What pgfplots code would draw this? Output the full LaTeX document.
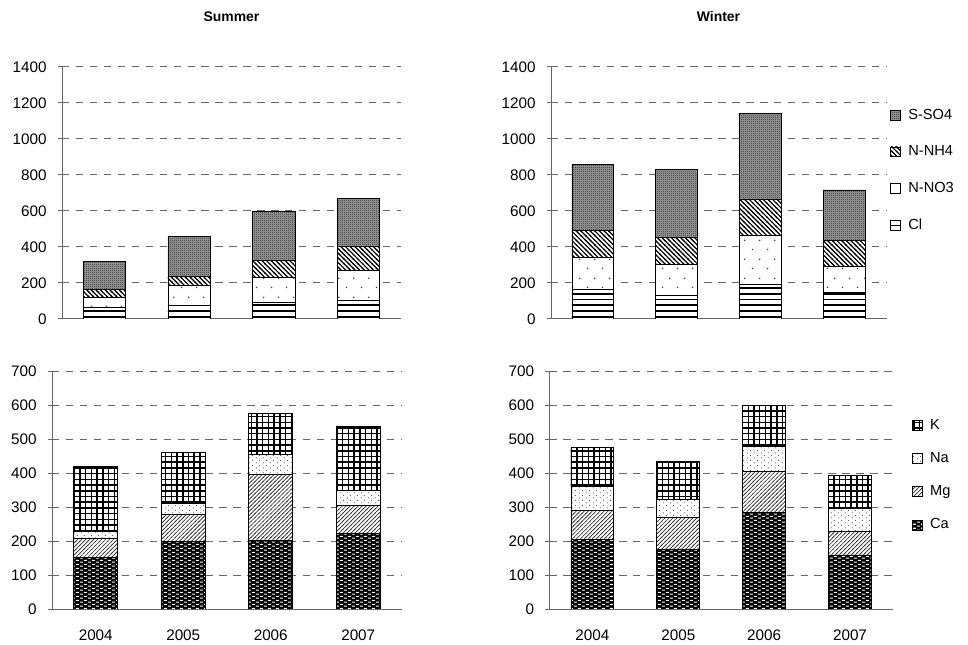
\documentclass[border=0pt]{standalone}
\usepackage{fontspec}
\setmainfont{Liberation Sans}
\usepackage{pgfplots}
\usepackage{pgfplotstable}
\pgfplotsset{compat=1.18}
\usetikzlibrary{patterns}

% ---------- fill patterns (form-only, coloured by "pattern color") ----------
% Cl: thick horizontal rules
\pgfdeclarepatternformonly{clpat}{\pgfqpoint{-1pt}{-1pt}}{\pgfqpoint{5pt}{5.3pt}}{\pgfqpoint{4pt}{4.3pt}}{%
  \pgfsetlinewidth{1.3pt}%
  \pgfpathmoveto{\pgfqpoint{-0.5pt}{2pt}}\pgfpathlineto{\pgfqpoint{4.5pt}{2pt}}\pgfusepath{stroke}}
% N-NO3: sparse staggered dots
\pgfdeclarepatternformonly{no3pat}{\pgfqpoint{0pt}{0pt}}{\pgfqpoint{11pt}{14pt}}{\pgfqpoint{11pt}{14pt}}{%
  \pgfpathcircle{\pgfqpoint{2.75pt}{3.5pt}}{0.65pt}%
  \pgfpathcircle{\pgfqpoint{8.25pt}{10.5pt}}{0.65pt}\pgfusepath{fill}}
% N-NH4: dense "\\" stripes
\pgfdeclarepatternformonly{nh4pat}{\pgfqpoint{-1pt}{-1pt}}{\pgfqpoint{4.5pt}{4.5pt}}{\pgfqpoint{3.5pt}{3.5pt}}{%
  \pgfsetlinewidth{0.9pt}%
  \pgfpathmoveto{\pgfqpoint{-0.4pt}{3.9pt}}\pgfpathlineto{\pgfqpoint{3.9pt}{-0.4pt}}\pgfusepath{stroke}}
% S-SO4: fine dot texture laid over grey
\pgfdeclarepatternformonly{so4pat}{\pgfqpoint{0pt}{0pt}}{\pgfqpoint{1.6pt}{1.6pt}}{\pgfqpoint{1.6pt}{1.6pt}}{%
  \pgfpathcircle{\pgfqpoint{0.4pt}{0.4pt}}{0.42pt}\pgfusepath{fill}}
% Ca: short light dashes in a brick layout (on black)
\pgfdeclarepatternformonly{capat}{\pgfqpoint{0pt}{0pt}}{\pgfqpoint{6pt}{3.2pt}}{\pgfqpoint{6pt}{3.2pt}}{%
  \pgfsetlinewidth{0.9pt}%
  \pgfpathmoveto{\pgfqpoint{0.6pt}{0.8pt}}\pgfpathlineto{\pgfqpoint{2.9pt}{0.8pt}}%
  \pgfpathmoveto{\pgfqpoint{3.6pt}{2.4pt}}\pgfpathlineto{\pgfqpoint{5.9pt}{2.4pt}}\pgfusepath{stroke}}
% Mg: thin "//" stripes
\pgfdeclarepatternformonly{mgpat}{\pgfqpoint{-1pt}{-1pt}}{\pgfqpoint{4pt}{4pt}}{\pgfqpoint{3pt}{3pt}}{%
  \pgfsetlinewidth{0.5pt}%
  \pgfpathmoveto{\pgfqpoint{-0.4pt}{-0.4pt}}\pgfpathlineto{\pgfqpoint{3.4pt}{3.4pt}}\pgfusepath{stroke}}
% Na: small dense dots
\pgfdeclarepatternformonly{napat}{\pgfqpoint{0pt}{0pt}}{\pgfqpoint{5pt}{4pt}}{\pgfqpoint{5pt}{4pt}}{%
  \pgfpathcircle{\pgfqpoint{1pt}{1pt}}{0.45pt}%
  \pgfpathcircle{\pgfqpoint{3.5pt}{3pt}}{0.45pt}\pgfusepath{fill}}
% K: heavy grid
\pgfdeclarepatternformonly{kpat}{\pgfqpoint{-1pt}{-1pt}}{\pgfqpoint{5.3pt}{5.3pt}}{\pgfqpoint{4.3pt}{4.3pt}}{%
  \pgfsetlinewidth{1.1pt}%
  \pgfpathmoveto{\pgfqpoint{0pt}{-0.6pt}}\pgfpathlineto{\pgfqpoint{0pt}{4.9pt}}%
  \pgfpathmoveto{\pgfqpoint{-0.6pt}{0pt}}\pgfpathlineto{\pgfqpoint{4.9pt}{0pt}}\pgfusepath{stroke}}

% ---------- data (segment heights of each stacked bar) ----------
\pgfplotstableread{
x  Cl  NO3 NH4 SO4
0  65  53  47  153
1  74  115 46  222
2  91  141 96  269
3  105 163 137 267
}\summertop
\pgfplotstableread{
x  Cl  NO3 NH4 SO4
0  163 180 151 366
1  132 169 153 378
2  191 276 200 477
3  148 146 143 280
}\wintertop
\pgfplotstableread{
x  Ca  Mg  Na  K
0  151 56  21  191
1  200 77  34  150
2  202 194 59  120
3  221 84  45  188
}\summerbot
\pgfplotstableread{
x  Ca  Mg  Na  K
0  204 87  69  115
1  176 92  53  114
2  284 120 73  123
3  159 68  70  95
}\winterbot

\pgfplotsset{
  panel/.style={
    scale only axis,
    ybar stacked, bar width=0.5,
    xmin=-0.5, xmax=3.5, ymin=0,
    axis x line*=bottom, axis y line*=left,
    axis line style={black!60, line width=0.75pt},
    xtick={0,1,2,3},
    major x tick style={draw=none},
    major y tick style={black!60, line width=0.75pt},
    tick align=outside, major tick length=3pt,
    ymajorgrids,
    grid style={black!60, line width=0.75pt, dash pattern=on 5.5pt off 5pt},
    tick label style={font=\fontsize{11.5}{13.8}\selectfont},
    /pgf/number format/assume math mode=true,
    /pgf/number format/1000 sep={},
    yticklabel style={xshift=-5pt},
    xticklabel style={yshift=-9pt},
    every axis plot/.append style={draw=black, line width=0.6pt},
    legend cell align=left,
    reverse legend,
    legend image code/.code={\draw[##1, draw=black, line width=0.4pt] (0pt,-3.75pt) rectangle (7.5pt,3.75pt);},
  },
  toprow/.style={panel, ymax=1400, ytick={0,200,...,1400}, xticklabels={},
    width=254.25bp, height=189bp,
    title style={at={(0.5,1)}, anchor=base, yshift=28bp, font=\fontsize{10.5}{12.6}\selectfont\bfseries}},
  botrow/.style={panel, ymax=700, ytick={0,100,...,700},
    xticklabels={2004,2005,2006,2007},
    width=258bp, height=178.5bp},
  clsty/.style={fill=white, postaction={pattern=clpat, pattern color=black}},
  no3sty/.style={fill=white, postaction={pattern=no3pat, pattern color=black!75}},
  nh4sty/.style={fill=white, postaction={pattern=nh4pat, pattern color=black}},
  so4sty/.style={fill=black!45, postaction={pattern=so4pat, pattern color=black!85}},
  casty/.style={fill=black, postaction={pattern=capat, pattern color=white}},
  mgsty/.style={fill=white, postaction={pattern=mgpat, pattern color=black!80}},
  nasty/.style={fill=white, postaction={pattern=napat, pattern color=black!70}},
  ksty/.style={fill=white, postaction={pattern=kpat, pattern color=black}},
  legstyle/.style={legend style={draw=none, fill=none, inner sep=0pt,
      nodes={inner sep=2.2pt}, font=\fontsize{11}{13.2}\selectfont,
      /tikz/every odd column/.append style={column sep=3.5pt}}},
}

\begin{document}
\begin{tikzpicture}
\useasboundingbox (0,0) rectangle (726bp,483.75bp);

% Summer, anions
\begin{axis}[toprow, at={(46.5bp,244.5bp)}, anchor=south west, title={Summer}]
  \addplot[clsty]  table[x=x, y=Cl]  {\summertop};
  \addplot[no3sty] table[x=x, y=NO3] {\summertop};
  \addplot[nh4sty] table[x=x, y=NH4] {\summertop};
  \addplot[so4sty] table[x=x, y=SO4] {\summertop};
\end{axis}

% Winter, anions
\begin{axis}[toprow, at={(413.25bp,244.5bp)}, anchor=south west, width=251.25bp, title={Winter},
    legstyle, legend style={at={(1.012,0.59)}, anchor=west, row sep=14bp}]
  \addplot[clsty]  table[x=x, y=Cl]  {\wintertop};
  \addplot[no3sty] table[x=x, y=NO3] {\wintertop};
  \addplot[nh4sty] table[x=x, y=NH4] {\wintertop};
  \addplot[so4sty] table[x=x, y=SO4] {\wintertop};
  \legend{Cl, N-NO3, N-NH4, S-SO4}
\end{axis}

% Summer, cations
\begin{axis}[botrow, at={(39bp,27bp)}, anchor=south west, width=262.5bp]
  \addplot[casty] table[x=x, y=Ca] {\summerbot};
  \addplot[mgsty] table[x=x, y=Mg] {\summerbot};
  \addplot[nasty] table[x=x, y=Na] {\summerbot};
  \addplot[ksty]  table[x=x, y=K]  {\summerbot};
\end{axis}

% Winter, cations
\begin{axis}[botrow, at={(412.1bp,27bp)}, anchor=south west, width=257.6bp,
    legstyle, legend style={at={(1.055,0.563)}, anchor=west, row sep=11.5bp}]
  \addplot[casty] table[x=x, y=Ca] {\winterbot};
  \addplot[mgsty] table[x=x, y=Mg] {\winterbot};
  \addplot[nasty] table[x=x, y=Na] {\winterbot};
  \addplot[ksty]  table[x=x, y=K]  {\winterbot};
  \legend{Ca, Mg, Na, K}
\end{axis}
\end{tikzpicture}
\end{document}
